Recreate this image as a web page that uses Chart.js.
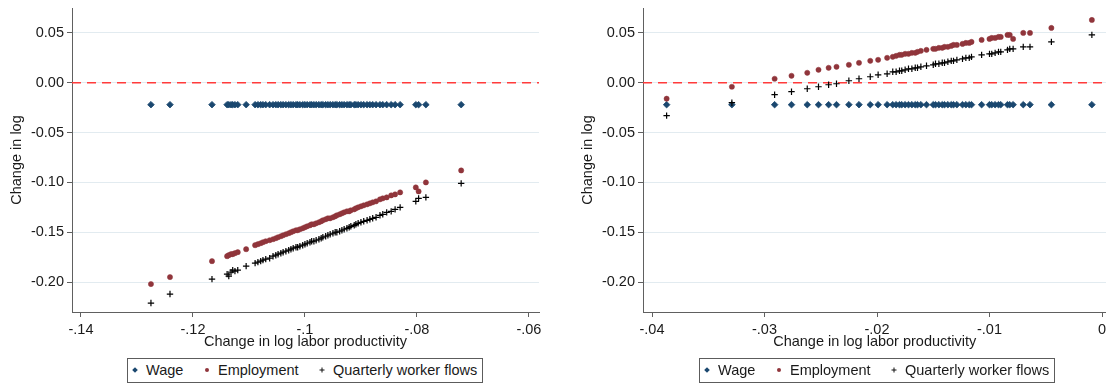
<!DOCTYPE html>
<html>
<head>
<meta charset="utf-8">
<script src="https://cdn.jsdelivr.net/npm/chart.js@4.4.1/dist/chart.umd.min.js"></script>
<style>
  html, body { margin: 0; padding: 0; background: #fff; }
  body { width: 1106px; height: 385px; overflow: hidden; position: relative;
         font-family: "Liberation Sans", Arial, sans-serif; }
  canvas { position: absolute; top: 0; }
  #panelA { left: 0; }
  #panelB { left: 553px; }
  .legend { position: absolute; top: 358px; width: 354px; height: 23px;
            border: 1px solid #5c5c5c; font-size: 14.5px; color: #1a1a1a; background: #fff; }
  .legend .t { position: absolute; top: 2.5px; line-height: 17px; white-space: nowrap; }
  .legend svg { position: absolute; top: 6px; width: 10px; height: 10px; }
</style>
</head>
<body>
<canvas id="panelA" width="553" height="385"></canvas>
<canvas id="panelB" width="610" height="385"></canvas>

<div class="legend" style="left:127px">
  <svg style="left:2px" viewBox="0 0 10 10"><polygon points="5,2.2 7.8,5 5,7.8 2.2,5" fill="#1a476f"/></svg>
  <span class="t" style="left:18px">Wage</span>
  <svg style="left:74px" viewBox="0 0 10 10"><circle cx="5" cy="5" r="2" fill="#90353b"/></svg>
  <span class="t" style="left:90px">Employment</span>
  <svg style="left:189px" viewBox="0 0 10 10"><path d="M5 2.5V7.5M2.5 5H7.5" stroke="#111" stroke-width="1"/></svg>
  <span class="t" style="left:205px">Quarterly worker flows</span>
</div>
<div class="legend" style="left:699px">
  <svg style="left:2px" viewBox="0 0 10 10"><polygon points="5,2.2 7.8,5 5,7.8 2.2,5" fill="#1a476f"/></svg>
  <span class="t" style="left:18px">Wage</span>
  <svg style="left:74px" viewBox="0 0 10 10"><circle cx="5" cy="5" r="2" fill="#90353b"/></svg>
  <span class="t" style="left:90px">Employment</span>
  <svg style="left:189px" viewBox="0 0 10 10"><path d="M5 2.5V7.5M2.5 5H7.5" stroke="#111" stroke-width="1"/></svg>
  <span class="t" style="left:205px">Quarterly worker flows</span>
</div>

<script>
// ---- Left panel: change in log labor productivity and responses ----
const prodA = [
  -0.1275, -0.1241, -0.1166, -0.1139, -0.1136, -0.1132, -0.1129, -0.1125, -0.1120, -0.1105,
  -0.1089, -0.1084, -0.1079, -0.1075, -0.1070, -0.1063, -0.1057, -0.1052, -0.1048, -0.1043,
  -0.1039, -0.1034, -0.1029, -0.1025, -0.1021, -0.1016, -0.1013, -0.1009, -0.1004, -0.1000,
  -0.0996, -0.0991, -0.0988, -0.0984, -0.0980, -0.0975, -0.0971, -0.0968, -0.0963, -0.0959,
  -0.0955, -0.0950, -0.0946, -0.0943, -0.0938, -0.0934, -0.0930, -0.0925, -0.0921, -0.0918,
  -0.0912, -0.0909, -0.0905, -0.0900, -0.0895, -0.0889, -0.0884, -0.0879, -0.0873, -0.0866,
  -0.0861, -0.0854, -0.0846, -0.0839, -0.0830, -0.0802, -0.0797, -0.0784, -0.0721
];
const wageA = [
  -0.022, -0.022, -0.022, -0.022, -0.022, -0.022, -0.022, -0.022, -0.022, -0.022,
  -0.022, -0.022, -0.022, -0.022, -0.022, -0.022, -0.022, -0.022, -0.022, -0.022,
  -0.022, -0.022, -0.022, -0.022, -0.022, -0.022, -0.022, -0.022, -0.022, -0.022,
  -0.022, -0.022, -0.022, -0.022, -0.022, -0.022, -0.022, -0.022, -0.022, -0.022,
  -0.022, -0.022, -0.022, -0.022, -0.022, -0.022, -0.022, -0.022, -0.022, -0.022,
  -0.022, -0.022, -0.022, -0.022, -0.022, -0.022, -0.022, -0.022, -0.022, -0.022,
  -0.022, -0.022, -0.022, -0.022, -0.022, -0.022, -0.022, -0.022, -0.022
];
const employmentA = [
  -0.202, -0.195, -0.179, -0.174, -0.173, -0.172, -0.172, -0.171, -0.170, -0.167,
  -0.163, -0.162, -0.161, -0.160, -0.159, -0.158, -0.157, -0.156, -0.155, -0.154,
  -0.153, -0.152, -0.151, -0.150, -0.149, -0.148, -0.148, -0.147, -0.146, -0.145,
  -0.144, -0.143, -0.142, -0.142, -0.141, -0.140, -0.139, -0.138, -0.137, -0.136,
  -0.136, -0.135, -0.134, -0.133, -0.132, -0.131, -0.130, -0.129, -0.129, -0.128,
  -0.127, -0.126, -0.125, -0.124, -0.123, -0.122, -0.121, -0.120, -0.119, -0.117,
  -0.116, -0.115, -0.113, -0.112, -0.110, -0.105, -0.109, -0.100, -0.088
];
const flowsA = [
  -0.221, -0.212, -0.197, -0.192, -0.194, -0.190, -0.188, -0.189, -0.188, -0.184,
  -0.181, -0.180, -0.179, -0.178, -0.177, -0.176, -0.174, -0.173, -0.172, -0.171,
  -0.170, -0.169, -0.168, -0.167, -0.166, -0.165, -0.165, -0.164, -0.163, -0.162,
  -0.161, -0.160, -0.159, -0.159, -0.158, -0.157, -0.156, -0.155, -0.154, -0.153,
  -0.152, -0.151, -0.150, -0.150, -0.149, -0.148, -0.147, -0.146, -0.145, -0.144,
  -0.143, -0.142, -0.141, -0.140, -0.139, -0.138, -0.137, -0.136, -0.135, -0.133,
  -0.132, -0.130, -0.129, -0.127, -0.125, -0.119, -0.116, -0.115, -0.101
];
const xTicksA = [-0.14, -0.12, -0.10, -0.08, -0.06];
const xTickLabelsA = ['-.14', '-.12', '-.1', '-.08', '-.06'];
const xRangeA = [-0.1416, -0.0582];

// ---- Right panel ----
const prodB = [
  -0.0387, -0.0329, -0.0291, -0.0276, -0.0262, -0.0252, -0.0243, -0.0236, -0.0225, -0.0216,
  -0.0206, -0.0199, -0.0191, -0.0186, -0.0183, -0.0180, -0.0178, -0.0175, -0.0172, -0.0169,
  -0.0166, -0.0164, -0.0161, -0.0156, -0.0150, -0.0148, -0.0145, -0.0142, -0.0140, -0.0137,
  -0.0134, -0.0132, -0.0129, -0.0124, -0.0121, -0.0118, -0.0116, -0.0107, -0.0100, -0.0098,
  -0.0095, -0.0092, -0.0090, -0.0084, -0.0082, -0.0079, -0.0070, -0.0064, -0.0045, -0.0009
];
const wageB = [
  -0.022, -0.022, -0.022, -0.022, -0.022, -0.022, -0.022, -0.022, -0.022, -0.022,
  -0.022, -0.022, -0.022, -0.022, -0.022, -0.022, -0.022, -0.022, -0.022, -0.022,
  -0.022, -0.022, -0.022, -0.022, -0.022, -0.022, -0.022, -0.022, -0.022, -0.022,
  -0.022, -0.022, -0.022, -0.022, -0.022, -0.022, -0.022, -0.022, -0.022, -0.022,
  -0.022, -0.022, -0.022, -0.022, -0.022, -0.022, -0.022, -0.022, -0.022, -0.022
];
const employmentB = [
  -0.016, -0.004, 0.004, 0.007, 0.010, 0.013, 0.015, 0.016, 0.018, 0.020,
  0.022, 0.023, 0.025, 0.026, 0.027, 0.028, 0.028, 0.029, 0.029, 0.030,
  0.030, 0.031, 0.032, 0.033, 0.034, 0.034, 0.035, 0.035, 0.036, 0.036,
  0.037, 0.038, 0.038, 0.039, 0.040, 0.040, 0.041, 0.043, 0.044, 0.045,
  0.045, 0.046, 0.046, 0.048, 0.048, 0.044, 0.050, 0.050, 0.055, 0.063
];
const flowsB = [
  -0.033, -0.020, -0.012, -0.009, -0.006, -0.004, -0.002, -0.001, 0.002, 0.004,
  0.006, 0.008, 0.009, 0.011, 0.011, 0.012, 0.012, 0.013, 0.014, 0.014,
  0.015, 0.015, 0.016, 0.017, 0.018, 0.019, 0.019, 0.020, 0.020, 0.021,
  0.022, 0.022, 0.023, 0.024, 0.025, 0.025, 0.026, 0.028, 0.029, 0.029,
  0.030, 0.031, 0.031, 0.033, 0.034, 0.034, 0.036, 0.036, 0.041, 0.048
];
const xTicksB = [-0.04, -0.03, -0.02, -0.01, 0];
const xTickLabelsB = ['-.04', '-.03', '-.02', '-.01', '0'];
const xRangeB = [-0.0408, 0.0004];

// ---- Shared vertical axis ----
const yTicks = [-0.20, -0.15, -0.10, -0.05, 0.00, 0.05];
const yTickLabels = ['-0.20', '-0.15', '-0.10', '-0.05', '0.00', '0.05'];
const yRange = [-0.23, 0.075];
const zeroLevel = 0;

const TEXT = '#1a1a1a';
const AXIS = '#606060';
const GRID = '#e2ebf0';
const FONT = { family: '"Liberation Sans", Arial, sans-serif', size: 14.5 };

function points(xs, ys) {
  return xs.map((x, i) => ({ x: x, y: ys[i] }));
}

function drawPanel(id, xs, wage, emp, flows, xRange, xTicks, xLabels, geom) {
  new Chart(document.getElementById(id), {
    type: 'scatter',
    data: {
      datasets: [
        { label: 'Quarterly worker flows', data: points(xs, flows), pointStyle: 'cross',
          pointRadius: 3.2, borderColor: '#000', backgroundColor: '#000', borderWidth: 1.2, order: 1 },
        { label: 'Employment', data: points(xs, emp), pointStyle: 'circle',
          pointRadius: 2.6, backgroundColor: '#90353b', borderColor: '#90353b', borderWidth: 0.5, order: 2 },
        { label: 'Wage', data: points(xs, wage), pointStyle: 'rectRot',
          pointRadius: 3.3, backgroundColor: '#1a476f', borderColor: '#1a476f', borderWidth: 0.8, order: 3 },
        { label: 'zero', data: [{ x: xRange[0], y: zeroLevel }, { x: xRange[1], y: zeroLevel }],
          showLine: true, pointRadius: 0, borderColor: '#ff3b3b', borderWidth: 1.3,
          borderDash: [9, 6], order: 4 }
      ]
    },
    options: {
      responsive: false,
      animation: false,
      devicePixelRatio: 1,
      events: [],
      layout: { padding: geom.padding },
      plugins: { legend: { display: false }, tooltip: { enabled: false } },
      scales: {
        x: {
          type: 'linear', min: xRange[0], max: xRange[1],
          afterBuildTicks: s => { s.ticks = xTicks.map(v => ({ value: v })); },
          afterFit: s => { s.height = 45; s.paddingLeft = 0; s.paddingRight = 0; },
          ticks: { callback: (v, i) => xLabels[i], padding: 4, maxRotation: 0, autoSkip: false,
                   color: TEXT, font: FONT },
          grid: { drawOnChartArea: false, drawTicks: true, tickLength: 5, tickColor: AXIS },
          border: { display: true, color: AXIS, width: 1 },
          title: { display: true, text: 'Change in log labor productivity', color: TEXT,
                   font: FONT, padding: { top: 0, bottom: 6.8 } }
        },
        y: {
          type: 'linear', min: yRange[0], max: yRange[1],
          afterBuildTicks: s => { s.ticks = yTicks.map(v => ({ value: v })); },
          afterFit: s => { s.width = geom.yWidth; s.paddingTop = 0; s.paddingBottom = 0; },
          ticks: { callback: (v, i) => yTickLabels[i], padding: 3, autoSkip: false,
                   color: TEXT, font: FONT },
          grid: { color: GRID, lineWidth: 1, drawTicks: true, tickLength: 5, tickColor: AXIS },
          border: { display: true, color: AXIS, width: 1 },
          title: { display: true, text: 'Change in log', color: TEXT, font: FONT,
                   padding: { top: geom.yTitlePad, bottom: 0 } }
        }
      }
    }
  });
}

drawPanel('panelA', prodA, wageA, employmentA, flowsA, xRangeA, xTicksA, xTickLabelsA,
  { padding: { left: 0, right: 14, top: 8, bottom: 28 }, yWidth: 72, yTitlePad: 8.3 });
drawPanel('panelB', prodB, wageB, employmentB, flowsB, xRangeB, xTicksB, xTickLabelsB,
  { padding: { left: 0, right: 56.5, top: 8, bottom: 28 }, yWidth: 90, yTitlePad: 26.3 });
</script>
</body>
</html>
